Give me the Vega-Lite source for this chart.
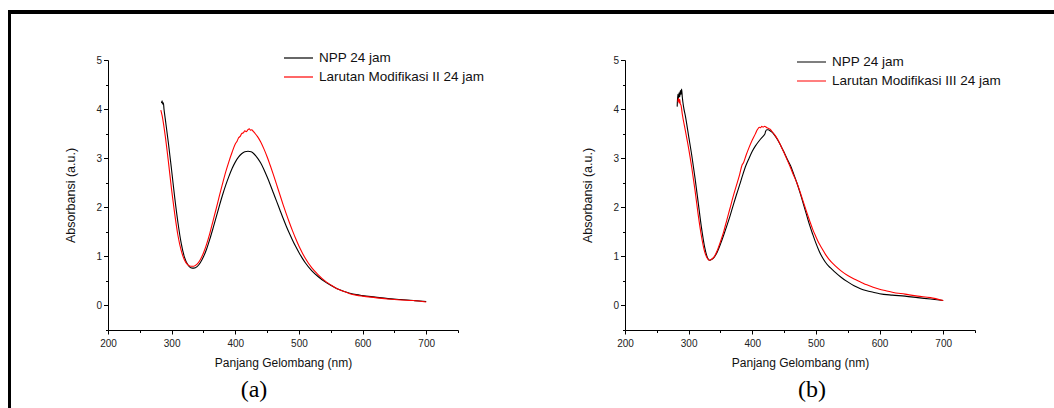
{
  "$schema": "https://vega.github.io/schema/vega-lite/v6.json",
  "autosize": {"type": "pad"},
  "padding": {"left": 8, "top": 10, "right": 0, "bottom": 0},
  "background": "white",
  "config": {
    "view": {"stroke": null},
    "axis": {
      "grid": false,
      "domainColor": "#000",
      "domainWidth": 1,
      "tickColor": "#000",
      "tickWidth": 1,
      "labelFont": "Liberation Sans",
      "labelFontSize": 10,
      "labelColor": "#222",
      "titleFont": "Liberation Sans",
      "titleFontSize": 12,
      "titleFontWeight": "normal",
      "titleColor": "#111"
    },
    "legend": {
      "orient": "none",
      "title": null,
      "symbolType": "stroke",
      "symbolSize": 841,
      "symbolStrokeWidth": 1.2,
      "labelFont": "Liberation Sans",
      "labelFontSize": 13.5,
      "labelColor": "#111",
      "labelLimit": 0,
      "labelOffset": 5,
      "clipHeight": 16,
      "rowPadding": 3,
      "padding": 0
    },
    "title": {"font": "Liberation Serif", "fontSize": 24, "fontWeight": "normal", "color": "#000"}
  },
  "datasets": {
    "a": [
      {"series": "NPP 24 jam", "nm": 284, "abs": 4.12}, {"series": "NPP 24 jam", "nm": 285, "abs": 4.17}, {"series": "NPP 24 jam", "nm": 286, "abs": 4.10}, {"series": "NPP 24 jam", "nm": 287, "abs": 4.13}, {"series": "NPP 24 jam", "nm": 288, "abs": 4.00}, {"series": "NPP 24 jam", "nm": 290, "abs": 3.80}, {"series": "NPP 24 jam", "nm": 295, "abs": 3.30}, {"series": "NPP 24 jam", "nm": 300, "abs": 2.75}, {"series": "NPP 24 jam", "nm": 305, "abs": 2.18}, {"series": "NPP 24 jam", "nm": 310, "abs": 1.68}, {"series": "NPP 24 jam", "nm": 315, "abs": 1.27}, {"series": "NPP 24 jam", "nm": 320, "abs": 0.99}, {"series": "NPP 24 jam", "nm": 325, "abs": 0.84}, {"series": "NPP 24 jam", "nm": 330, "abs": 0.77}, {"series": "NPP 24 jam", "nm": 335, "abs": 0.76}, {"series": "NPP 24 jam", "nm": 340, "abs": 0.79}, {"series": "NPP 24 jam", "nm": 345, "abs": 0.87}, {"series": "NPP 24 jam", "nm": 350, "abs": 0.99}, {"series": "NPP 24 jam", "nm": 355, "abs": 1.15}, {"series": "NPP 24 jam", "nm": 360, "abs": 1.35}, {"series": "NPP 24 jam", "nm": 365, "abs": 1.57}, {"series": "NPP 24 jam", "nm": 370, "abs": 1.80}, {"series": "NPP 24 jam", "nm": 375, "abs": 2.03}, {"series": "NPP 24 jam", "nm": 380, "abs": 2.25}, {"series": "NPP 24 jam", "nm": 385, "abs": 2.45}, {"series": "NPP 24 jam", "nm": 390, "abs": 2.63}, {"series": "NPP 24 jam", "nm": 395, "abs": 2.79}, {"series": "NPP 24 jam", "nm": 400, "abs": 2.92}, {"series": "NPP 24 jam", "nm": 405, "abs": 3.02}, {"series": "NPP 24 jam", "nm": 410, "abs": 3.09}, {"series": "NPP 24 jam", "nm": 415, "abs": 3.13}, {"series": "NPP 24 jam", "nm": 420, "abs": 3.14}, {"series": "NPP 24 jam", "nm": 425, "abs": 3.13}, {"series": "NPP 24 jam", "nm": 430, "abs": 3.08}, {"series": "NPP 24 jam", "nm": 435, "abs": 3.00}, {"series": "NPP 24 jam", "nm": 440, "abs": 2.90}, {"series": "NPP 24 jam", "nm": 445, "abs": 2.77}, {"series": "NPP 24 jam", "nm": 450, "abs": 2.62}, {"series": "NPP 24 jam", "nm": 455, "abs": 2.46}, {"series": "NPP 24 jam", "nm": 460, "abs": 2.29}, {"series": "NPP 24 jam", "nm": 465, "abs": 2.12}, {"series": "NPP 24 jam", "nm": 470, "abs": 1.95}, {"series": "NPP 24 jam", "nm": 475, "abs": 1.78}, {"series": "NPP 24 jam", "nm": 480, "abs": 1.62}, {"series": "NPP 24 jam", "nm": 485, "abs": 1.47}, {"series": "NPP 24 jam", "nm": 490, "abs": 1.33}, {"series": "NPP 24 jam", "nm": 495, "abs": 1.20}, {"series": "NPP 24 jam", "nm": 500, "abs": 1.08}, {"series": "NPP 24 jam", "nm": 505, "abs": 0.97}, {"series": "NPP 24 jam", "nm": 510, "abs": 0.87}, {"series": "NPP 24 jam", "nm": 520, "abs": 0.71}, {"series": "NPP 24 jam", "nm": 530, "abs": 0.59}, {"series": "NPP 24 jam", "nm": 540, "abs": 0.49}, {"series": "NPP 24 jam", "nm": 550, "abs": 0.41}, {"series": "NPP 24 jam", "nm": 560, "abs": 0.34}, {"series": "NPP 24 jam", "nm": 570, "abs": 0.29}, {"series": "NPP 24 jam", "nm": 580, "abs": 0.25}, {"series": "NPP 24 jam", "nm": 590, "abs": 0.22}, {"series": "NPP 24 jam", "nm": 600, "abs": 0.20}, {"series": "NPP 24 jam", "nm": 620, "abs": 0.17}, {"series": "NPP 24 jam", "nm": 640, "abs": 0.14}, {"series": "NPP 24 jam", "nm": 660, "abs": 0.12}, {"series": "NPP 24 jam", "nm": 680, "abs": 0.10}, {"series": "NPP 24 jam", "nm": 700, "abs": 0.08},
      {"series": "Larutan Modifikasi II 24 jam", "nm": 283, "abs": 3.98}, {"series": "Larutan Modifikasi II 24 jam", "nm": 284, "abs": 3.93}, {"series": "Larutan Modifikasi II 24 jam", "nm": 285, "abs": 3.87}, {"series": "Larutan Modifikasi II 24 jam", "nm": 287, "abs": 3.72}, {"series": "Larutan Modifikasi II 24 jam", "nm": 290, "abs": 3.45}, {"series": "Larutan Modifikasi II 24 jam", "nm": 295, "abs": 2.92}, {"series": "Larutan Modifikasi II 24 jam", "nm": 300, "abs": 2.35}, {"series": "Larutan Modifikasi II 24 jam", "nm": 305, "abs": 1.85}, {"series": "Larutan Modifikasi II 24 jam", "nm": 310, "abs": 1.42}, {"series": "Larutan Modifikasi II 24 jam", "nm": 315, "abs": 1.12}, {"series": "Larutan Modifikasi II 24 jam", "nm": 320, "abs": 0.93}, {"series": "Larutan Modifikasi II 24 jam", "nm": 325, "abs": 0.83}, {"series": "Larutan Modifikasi II 24 jam", "nm": 330, "abs": 0.80}, {"series": "Larutan Modifikasi II 24 jam", "nm": 335, "abs": 0.80}, {"series": "Larutan Modifikasi II 24 jam", "nm": 340, "abs": 0.84}, {"series": "Larutan Modifikasi II 24 jam", "nm": 345, "abs": 0.93}, {"series": "Larutan Modifikasi II 24 jam", "nm": 350, "abs": 1.07}, {"series": "Larutan Modifikasi II 24 jam", "nm": 355, "abs": 1.25}, {"series": "Larutan Modifikasi II 24 jam", "nm": 360, "abs": 1.47}, {"series": "Larutan Modifikasi II 24 jam", "nm": 365, "abs": 1.72}, {"series": "Larutan Modifikasi II 24 jam", "nm": 370, "abs": 1.97}, {"series": "Larutan Modifikasi II 24 jam", "nm": 375, "abs": 2.23}, {"series": "Larutan Modifikasi II 24 jam", "nm": 380, "abs": 2.48}, {"series": "Larutan Modifikasi II 24 jam", "nm": 385, "abs": 2.72}, {"series": "Larutan Modifikasi II 24 jam", "nm": 390, "abs": 2.93}, {"series": "Larutan Modifikasi II 24 jam", "nm": 395, "abs": 3.12}, {"series": "Larutan Modifikasi II 24 jam", "nm": 400, "abs": 3.29}, {"series": "Larutan Modifikasi II 24 jam", "nm": 403, "abs": 3.35}, {"series": "Larutan Modifikasi II 24 jam", "nm": 405, "abs": 3.41}, {"series": "Larutan Modifikasi II 24 jam", "nm": 408, "abs": 3.45}, {"series": "Larutan Modifikasi II 24 jam", "nm": 410, "abs": 3.50}, {"series": "Larutan Modifikasi II 24 jam", "nm": 413, "abs": 3.52}, {"series": "Larutan Modifikasi II 24 jam", "nm": 415, "abs": 3.56}, {"series": "Larutan Modifikasi II 24 jam", "nm": 417, "abs": 3.54}, {"series": "Larutan Modifikasi II 24 jam", "nm": 420, "abs": 3.58}, {"series": "Larutan Modifikasi II 24 jam", "nm": 422, "abs": 3.60}, {"series": "Larutan Modifikasi II 24 jam", "nm": 424, "abs": 3.57}, {"series": "Larutan Modifikasi II 24 jam", "nm": 426, "abs": 3.58}, {"series": "Larutan Modifikasi II 24 jam", "nm": 428, "abs": 3.55}, {"series": "Larutan Modifikasi II 24 jam", "nm": 430, "abs": 3.52}, {"series": "Larutan Modifikasi II 24 jam", "nm": 435, "abs": 3.44}, {"series": "Larutan Modifikasi II 24 jam", "nm": 440, "abs": 3.33}, {"series": "Larutan Modifikasi II 24 jam", "nm": 445, "abs": 3.19}, {"series": "Larutan Modifikasi II 24 jam", "nm": 450, "abs": 3.03}, {"series": "Larutan Modifikasi II 24 jam", "nm": 455, "abs": 2.85}, {"series": "Larutan Modifikasi II 24 jam", "nm": 460, "abs": 2.66}, {"series": "Larutan Modifikasi II 24 jam", "nm": 465, "abs": 2.46}, {"series": "Larutan Modifikasi II 24 jam", "nm": 470, "abs": 2.26}, {"series": "Larutan Modifikasi II 24 jam", "nm": 475, "abs": 2.06}, {"series": "Larutan Modifikasi II 24 jam", "nm": 480, "abs": 1.87}, {"series": "Larutan Modifikasi II 24 jam", "nm": 485, "abs": 1.69}, {"series": "Larutan Modifikasi II 24 jam", "nm": 490, "abs": 1.52}, {"series": "Larutan Modifikasi II 24 jam", "nm": 495, "abs": 1.36}, {"series": "Larutan Modifikasi II 24 jam", "nm": 500, "abs": 1.21}, {"series": "Larutan Modifikasi II 24 jam", "nm": 505, "abs": 1.08}, {"series": "Larutan Modifikasi II 24 jam", "nm": 510, "abs": 0.96}, {"series": "Larutan Modifikasi II 24 jam", "nm": 520, "abs": 0.77}, {"series": "Larutan Modifikasi II 24 jam", "nm": 530, "abs": 0.63}, {"series": "Larutan Modifikasi II 24 jam", "nm": 540, "abs": 0.51}, {"series": "Larutan Modifikasi II 24 jam", "nm": 550, "abs": 0.42}, {"series": "Larutan Modifikasi II 24 jam", "nm": 560, "abs": 0.34}, {"series": "Larutan Modifikasi II 24 jam", "nm": 570, "abs": 0.29}, {"series": "Larutan Modifikasi II 24 jam", "nm": 580, "abs": 0.24}, {"series": "Larutan Modifikasi II 24 jam", "nm": 590, "abs": 0.21}, {"series": "Larutan Modifikasi II 24 jam", "nm": 600, "abs": 0.19}, {"series": "Larutan Modifikasi II 24 jam", "nm": 620, "abs": 0.16}, {"series": "Larutan Modifikasi II 24 jam", "nm": 640, "abs": 0.13}, {"series": "Larutan Modifikasi II 24 jam", "nm": 660, "abs": 0.11}, {"series": "Larutan Modifikasi II 24 jam", "nm": 680, "abs": 0.10}, {"series": "Larutan Modifikasi II 24 jam", "nm": 700, "abs": 0.07}
    ],
    "b": [
      {"series": "NPP 24 jam", "nm": 282, "abs": 4.05}, {"series": "NPP 24 jam", "nm": 283, "abs": 4.30}, {"series": "NPP 24 jam", "nm": 284, "abs": 4.20}, {"series": "NPP 24 jam", "nm": 285, "abs": 4.33}, {"series": "NPP 24 jam", "nm": 286, "abs": 4.25}, {"series": "NPP 24 jam", "nm": 287, "abs": 4.38}, {"series": "NPP 24 jam", "nm": 288, "abs": 4.30}, {"series": "NPP 24 jam", "nm": 289, "abs": 4.41}, {"series": "NPP 24 jam", "nm": 290, "abs": 4.25}, {"series": "NPP 24 jam", "nm": 292, "abs": 4.05}, {"series": "NPP 24 jam", "nm": 295, "abs": 3.85}, {"series": "NPP 24 jam", "nm": 300, "abs": 3.45}, {"series": "NPP 24 jam", "nm": 305, "abs": 3.05}, {"series": "NPP 24 jam", "nm": 310, "abs": 2.60}, {"series": "NPP 24 jam", "nm": 315, "abs": 2.10}, {"series": "NPP 24 jam", "nm": 320, "abs": 1.60}, {"series": "NPP 24 jam", "nm": 325, "abs": 1.20}, {"series": "NPP 24 jam", "nm": 330, "abs": 0.96}, {"series": "NPP 24 jam", "nm": 333, "abs": 0.92}, {"series": "NPP 24 jam", "nm": 335, "abs": 0.93}, {"series": "NPP 24 jam", "nm": 340, "abs": 0.98}, {"series": "NPP 24 jam", "nm": 345, "abs": 1.09}, {"series": "NPP 24 jam", "nm": 350, "abs": 1.25}, {"series": "NPP 24 jam", "nm": 355, "abs": 1.43}, {"series": "NPP 24 jam", "nm": 360, "abs": 1.62}, {"series": "NPP 24 jam", "nm": 365, "abs": 1.82}, {"series": "NPP 24 jam", "nm": 370, "abs": 2.04}, {"series": "NPP 24 jam", "nm": 375, "abs": 2.25}, {"series": "NPP 24 jam", "nm": 380, "abs": 2.45}, {"series": "NPP 24 jam", "nm": 385, "abs": 2.66}, {"series": "NPP 24 jam", "nm": 390, "abs": 2.85}, {"series": "NPP 24 jam", "nm": 395, "abs": 3.00}, {"series": "NPP 24 jam", "nm": 400, "abs": 3.14}, {"series": "NPP 24 jam", "nm": 405, "abs": 3.25}, {"series": "NPP 24 jam", "nm": 410, "abs": 3.34}, {"series": "NPP 24 jam", "nm": 415, "abs": 3.42}, {"series": "NPP 24 jam", "nm": 418, "abs": 3.46}, {"series": "NPP 24 jam", "nm": 420, "abs": 3.50}, {"series": "NPP 24 jam", "nm": 421, "abs": 3.55}, {"series": "NPP 24 jam", "nm": 423, "abs": 3.58}, {"series": "NPP 24 jam", "nm": 425, "abs": 3.58}, {"series": "NPP 24 jam", "nm": 428, "abs": 3.56}, {"series": "NPP 24 jam", "nm": 430, "abs": 3.54}, {"series": "NPP 24 jam", "nm": 435, "abs": 3.47}, {"series": "NPP 24 jam", "nm": 440, "abs": 3.37}, {"series": "NPP 24 jam", "nm": 445, "abs": 3.25}, {"series": "NPP 24 jam", "nm": 450, "abs": 3.12}, {"series": "NPP 24 jam", "nm": 455, "abs": 2.98}, {"series": "NPP 24 jam", "nm": 460, "abs": 2.85}, {"series": "NPP 24 jam", "nm": 465, "abs": 2.68}, {"series": "NPP 24 jam", "nm": 470, "abs": 2.50}, {"series": "NPP 24 jam", "nm": 475, "abs": 2.30}, {"series": "NPP 24 jam", "nm": 480, "abs": 2.08}, {"series": "NPP 24 jam", "nm": 485, "abs": 1.86}, {"series": "NPP 24 jam", "nm": 490, "abs": 1.64}, {"series": "NPP 24 jam", "nm": 495, "abs": 1.45}, {"series": "NPP 24 jam", "nm": 500, "abs": 1.27}, {"series": "NPP 24 jam", "nm": 505, "abs": 1.11}, {"series": "NPP 24 jam", "nm": 510, "abs": 0.98}, {"series": "NPP 24 jam", "nm": 515, "abs": 0.88}, {"series": "NPP 24 jam", "nm": 520, "abs": 0.80}, {"series": "NPP 24 jam", "nm": 525, "abs": 0.74}, {"series": "NPP 24 jam", "nm": 530, "abs": 0.68}, {"series": "NPP 24 jam", "nm": 540, "abs": 0.57}, {"series": "NPP 24 jam", "nm": 550, "abs": 0.48}, {"series": "NPP 24 jam", "nm": 560, "abs": 0.40}, {"series": "NPP 24 jam", "nm": 570, "abs": 0.34}, {"series": "NPP 24 jam", "nm": 580, "abs": 0.30}, {"series": "NPP 24 jam", "nm": 590, "abs": 0.27}, {"series": "NPP 24 jam", "nm": 600, "abs": 0.24}, {"series": "NPP 24 jam", "nm": 620, "abs": 0.21}, {"series": "NPP 24 jam", "nm": 640, "abs": 0.19}, {"series": "NPP 24 jam", "nm": 660, "abs": 0.16}, {"series": "NPP 24 jam", "nm": 680, "abs": 0.13}, {"series": "NPP 24 jam", "nm": 700, "abs": 0.10},
      {"series": "Larutan Modifikasi III 24 jam", "nm": 283, "abs": 4.15}, {"series": "Larutan Modifikasi III 24 jam", "nm": 284, "abs": 4.22}, {"series": "Larutan Modifikasi III 24 jam", "nm": 285, "abs": 4.12}, {"series": "Larutan Modifikasi III 24 jam", "nm": 286, "abs": 4.20}, {"series": "Larutan Modifikasi III 24 jam", "nm": 287, "abs": 4.10}, {"series": "Larutan Modifikasi III 24 jam", "nm": 288, "abs": 4.08}, {"series": "Larutan Modifikasi III 24 jam", "nm": 290, "abs": 3.90}, {"series": "Larutan Modifikasi III 24 jam", "nm": 295, "abs": 3.55}, {"series": "Larutan Modifikasi III 24 jam", "nm": 300, "abs": 3.20}, {"series": "Larutan Modifikasi III 24 jam", "nm": 305, "abs": 2.80}, {"series": "Larutan Modifikasi III 24 jam", "nm": 310, "abs": 2.35}, {"series": "Larutan Modifikasi III 24 jam", "nm": 315, "abs": 1.85}, {"series": "Larutan Modifikasi III 24 jam", "nm": 320, "abs": 1.42}, {"series": "Larutan Modifikasi III 24 jam", "nm": 325, "abs": 1.10}, {"series": "Larutan Modifikasi III 24 jam", "nm": 330, "abs": 0.95}, {"series": "Larutan Modifikasi III 24 jam", "nm": 333, "abs": 0.92}, {"series": "Larutan Modifikasi III 24 jam", "nm": 335, "abs": 0.93}, {"series": "Larutan Modifikasi III 24 jam", "nm": 340, "abs": 0.99}, {"series": "Larutan Modifikasi III 24 jam", "nm": 345, "abs": 1.12}, {"series": "Larutan Modifikasi III 24 jam", "nm": 350, "abs": 1.30}, {"series": "Larutan Modifikasi III 24 jam", "nm": 355, "abs": 1.50}, {"series": "Larutan Modifikasi III 24 jam", "nm": 360, "abs": 1.74}, {"series": "Larutan Modifikasi III 24 jam", "nm": 365, "abs": 1.98}, {"series": "Larutan Modifikasi III 24 jam", "nm": 370, "abs": 2.22}, {"series": "Larutan Modifikasi III 24 jam", "nm": 375, "abs": 2.44}, {"series": "Larutan Modifikasi III 24 jam", "nm": 380, "abs": 2.66}, {"series": "Larutan Modifikasi III 24 jam", "nm": 384, "abs": 2.86}, {"series": "Larutan Modifikasi III 24 jam", "nm": 386, "abs": 2.90}, {"series": "Larutan Modifikasi III 24 jam", "nm": 390, "abs": 3.05}, {"series": "Larutan Modifikasi III 24 jam", "nm": 395, "abs": 3.22}, {"series": "Larutan Modifikasi III 24 jam", "nm": 400, "abs": 3.37}, {"series": "Larutan Modifikasi III 24 jam", "nm": 405, "abs": 3.50}, {"series": "Larutan Modifikasi III 24 jam", "nm": 407, "abs": 3.56}, {"series": "Larutan Modifikasi III 24 jam", "nm": 409, "abs": 3.60}, {"series": "Larutan Modifikasi III 24 jam", "nm": 411, "abs": 3.63}, {"series": "Larutan Modifikasi III 24 jam", "nm": 413, "abs": 3.62}, {"series": "Larutan Modifikasi III 24 jam", "nm": 415, "abs": 3.65}, {"series": "Larutan Modifikasi III 24 jam", "nm": 417, "abs": 3.63}, {"series": "Larutan Modifikasi III 24 jam", "nm": 419, "abs": 3.65}, {"series": "Larutan Modifikasi III 24 jam", "nm": 421, "abs": 3.64}, {"series": "Larutan Modifikasi III 24 jam", "nm": 423, "abs": 3.62}, {"series": "Larutan Modifikasi III 24 jam", "nm": 425, "abs": 3.61}, {"series": "Larutan Modifikasi III 24 jam", "nm": 428, "abs": 3.59}, {"series": "Larutan Modifikasi III 24 jam", "nm": 430, "abs": 3.56}, {"series": "Larutan Modifikasi III 24 jam", "nm": 435, "abs": 3.48}, {"series": "Larutan Modifikasi III 24 jam", "nm": 440, "abs": 3.38}, {"series": "Larutan Modifikasi III 24 jam", "nm": 445, "abs": 3.25}, {"series": "Larutan Modifikasi III 24 jam", "nm": 450, "abs": 3.11}, {"series": "Larutan Modifikasi III 24 jam", "nm": 455, "abs": 2.96}, {"series": "Larutan Modifikasi III 24 jam", "nm": 460, "abs": 2.81}, {"series": "Larutan Modifikasi III 24 jam", "nm": 465, "abs": 2.65}, {"series": "Larutan Modifikasi III 24 jam", "nm": 470, "abs": 2.50}, {"series": "Larutan Modifikasi III 24 jam", "nm": 475, "abs": 2.32}, {"series": "Larutan Modifikasi III 24 jam", "nm": 480, "abs": 2.12}, {"series": "Larutan Modifikasi III 24 jam", "nm": 485, "abs": 1.92}, {"series": "Larutan Modifikasi III 24 jam", "nm": 490, "abs": 1.73}, {"series": "Larutan Modifikasi III 24 jam", "nm": 495, "abs": 1.55}, {"series": "Larutan Modifikasi III 24 jam", "nm": 500, "abs": 1.40}, {"series": "Larutan Modifikasi III 24 jam", "nm": 505, "abs": 1.26}, {"series": "Larutan Modifikasi III 24 jam", "nm": 510, "abs": 1.15}, {"series": "Larutan Modifikasi III 24 jam", "nm": 515, "abs": 1.04}, {"series": "Larutan Modifikasi III 24 jam", "nm": 520, "abs": 0.95}, {"series": "Larutan Modifikasi III 24 jam", "nm": 530, "abs": 0.81}, {"series": "Larutan Modifikasi III 24 jam", "nm": 540, "abs": 0.70}, {"series": "Larutan Modifikasi III 24 jam", "nm": 550, "abs": 0.61}, {"series": "Larutan Modifikasi III 24 jam", "nm": 560, "abs": 0.54}, {"series": "Larutan Modifikasi III 24 jam", "nm": 570, "abs": 0.48}, {"series": "Larutan Modifikasi III 24 jam", "nm": 580, "abs": 0.42}, {"series": "Larutan Modifikasi III 24 jam", "nm": 590, "abs": 0.37}, {"series": "Larutan Modifikasi III 24 jam", "nm": 600, "abs": 0.33}, {"series": "Larutan Modifikasi III 24 jam", "nm": 610, "abs": 0.30}, {"series": "Larutan Modifikasi III 24 jam", "nm": 620, "abs": 0.27}, {"series": "Larutan Modifikasi III 24 jam", "nm": 640, "abs": 0.23}, {"series": "Larutan Modifikasi III 24 jam", "nm": 660, "abs": 0.19}, {"series": "Larutan Modifikasi III 24 jam", "nm": 680, "abs": 0.16}, {"series": "Larutan Modifikasi III 24 jam", "nm": 700, "abs": 0.10}
    ]
  },
  "bounds": "flush",
  "spacing": 0,
  "hconcat": [
    {
      "width": 3,
      "height": 398,
      "view": {"fill": "#000", "stroke": null},
      "data": {"values": []},
      "mark": "point"
    },
    {
      "bounds": "flush",
      "spacing": 46,
      "vconcat": [
        {
          "width": 1043,
          "height": 4,
          "view": {"fill": "#000", "stroke": null},
          "data": {"values": []},
          "mark": "point"
        },
        {
          "bounds": "flush",
          "spacing": 0,
          "resolve": {"scale": {"color": "independent", "x": "independent", "y": "independent"}},
          "hconcat": [
            {"width": 97, "height": 1, "data": {"values": []}, "mark": "point"},
            {
              "width": 350,
              "height": 270,
              "data": {"name": "a"},
              "title": {"text": "(a)", "orient": "bottom", "frame": "group", "anchor": "middle", "dx": -29, "offset": 10},
              "mark": {"type": "line", "strokeWidth": 1.1, "interpolate": "monotone"},
              "encoding": {
                "x": {
                  "field": "nm", "type": "quantitative",
                  "scale": {"domain": [200, 750], "nice": false, "zero": false},
                  "axis": {
                    "title": "Panjang Gelombang (nm)",
                    "values": [200, 250, 300, 350, 400, 450, 500, 550, 600, 650, 700, 750],
                    "labelExpr": "datum.value % 100 === 0 && datum.value < 750 ? datum.label : ''",
                    "tickSize": {"condition": {"test": "datum.value % 100 === 0", "value": 4}, "value": 2.5},
                    "labelPadding": 4,
                    "titlePadding": 9,
                    "labelFlush": false,
                    "labelOverlap": false
                  }
                },
                "y": {
                  "field": "abs", "type": "quantitative",
                  "scale": {"domain": [-0.5, 5], "nice": false, "zero": false},
                  "axis": {
                    "title": "Absorbansi (a.u.)",
                    "titleFontSize": 12.5,
                    "values": [-0.5, 0, 0.5, 1, 1.5, 2, 2.5, 3, 3.5, 4, 4.5, 5],
                    "labelExpr": "datum.value % 1 === 0 ? format(datum.value, 'd') : ''",
                    "tickSize": {"condition": {"test": "datum.value % 1 === 0", "value": 4.5}, "value": 2.5},
                    "labelPadding": 2,
                    "titlePadding": 18,
                    "labelFlush": false,
                    "labelOverlap": false
                  }
                },
                "color": {
                  "field": "series", "type": "nominal",
                  "scale": {"domain": ["NPP 24 jam", "Larutan Modifikasi II 24 jam"], "range": ["#000000", "#ff0000"]},
                  "legend": {"legendX": 175, "legendY": -10}
                }
              }
            },
            {"width": 167, "height": 1, "data": {"values": []}, "mark": "point"},
            {
              "width": 350,
              "height": 270,
              "data": {"name": "b"},
              "title": {"text": "(b)", "orient": "bottom", "frame": "group", "anchor": "middle", "dx": 12, "offset": 10},
              "mark": {"type": "line", "strokeWidth": 1.1, "interpolate": "monotone"},
              "encoding": {
                "x": {
                  "field": "nm", "type": "quantitative",
                  "scale": {"domain": [200, 750], "nice": false, "zero": false},
                  "axis": {
                    "title": "Panjang Gelombang (nm)",
                    "values": [200, 250, 300, 350, 400, 450, 500, 550, 600, 650, 700, 750],
                    "labelExpr": "datum.value % 100 === 0 && datum.value < 750 ? datum.label : ''",
                    "tickSize": {"condition": {"test": "datum.value % 100 === 0", "value": 4}, "value": 2.5},
                    "labelPadding": 4,
                    "titlePadding": 9,
                    "labelFlush": false,
                    "labelOverlap": false
                  }
                },
                "y": {
                  "field": "abs", "type": "quantitative",
                  "scale": {"domain": [-0.5, 5], "nice": false, "zero": false},
                  "axis": {
                    "title": "Absorbansi (a.u.)",
                    "titleFontSize": 12.5,
                    "values": [-0.5, 0, 0.5, 1, 1.5, 2, 2.5, 3, 3.5, 4, 4.5, 5],
                    "labelExpr": "datum.value % 1 === 0 ? format(datum.value, 'd') : ''",
                    "tickSize": {"condition": {"test": "datum.value % 1 === 0", "value": 4.5}, "value": 2.5},
                    "labelPadding": 2,
                    "titlePadding": 18,
                    "labelFlush": false,
                    "labelOverlap": false
                  }
                },
                "color": {
                  "field": "series", "type": "nominal",
                  "scale": {"domain": ["NPP 24 jam", "Larutan Modifikasi III 24 jam"], "range": ["#000000", "#ff0000"]},
                  "legend": {"legendX": 171, "legendY": -6}
                }
              }
            }
          ]
        }
      ]
    }
  ]
}
